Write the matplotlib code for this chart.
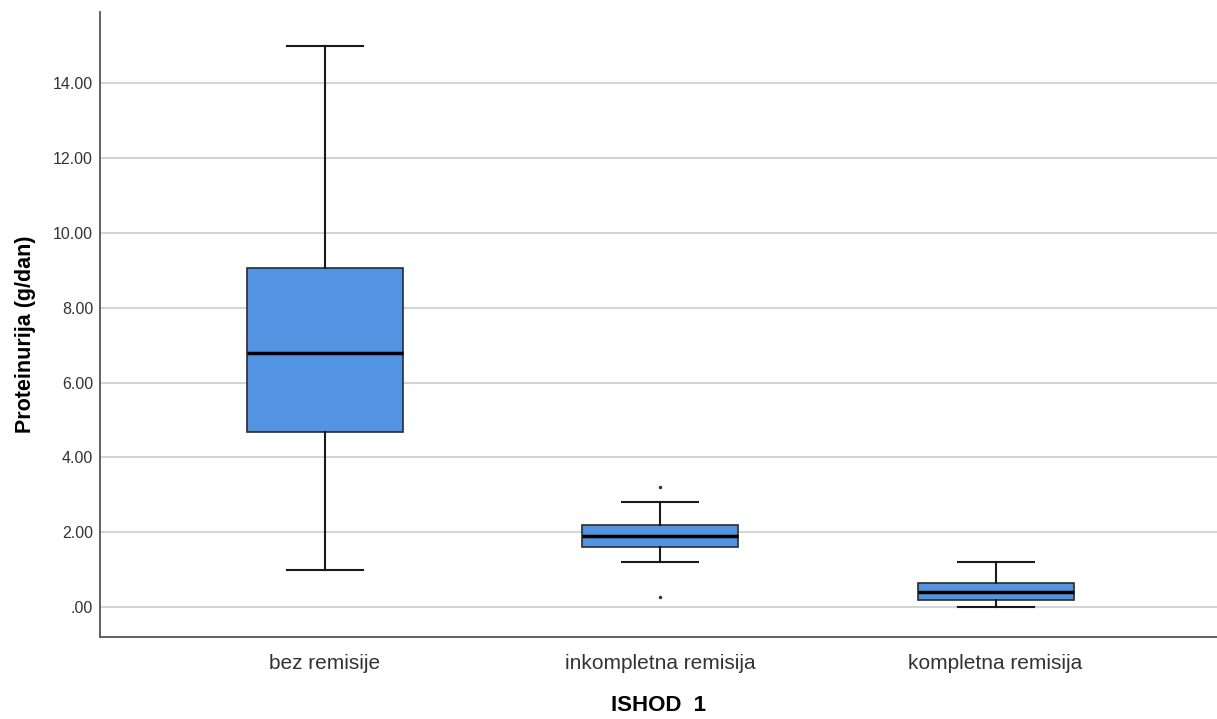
import matplotlib.pyplot as plt

# SPSS-style boxplot: Proteinurija by ISHOD 1
groups = ["bez remisije", "inkompletna remisija", "kompletna remisija"]
whislo = [1.0, 1.2, 0.0]
q1 = [4.68, 1.6, 0.2]
med = [6.8, 1.9, 0.4]
q3 = [9.05, 2.2, 0.65]
whishi = [15.0, 2.8, 1.2]
outliers = [[], [3.2, 0.27], []]

plt.rcParams['font.family'] = ['Liberation Sans', 'DejaVu Sans']

stats = []
for i in range(len(groups)):
    stats.append({"label": groups[i], "whislo": whislo[i], "q1": q1[i], "med": med[i],
                  "q3": q3[i], "whishi": whishi[i], "fliers": outliers[i]})

fig = plt.figure(figsize=(12.17, 7.19), dpi=100)
ax = fig.add_axes([100 / 1217, 82 / 719, 1 - 100 / 1217, 625 / 719])

for y in range(0, 16, 2):
    ax.axhline(y, color='#d4d4d4', lw=1.5, zorder=0)

ax.bxp(stats, positions=range(len(groups)), widths=0.465, patch_artist=True,
       capwidths=0.227,
       boxprops=dict(facecolor='#5294e2', edgecolor='#2b2b2b', lw=1.2),
       medianprops=dict(color='black', lw=2.5),
       whiskerprops=dict(color='#1a1a1a', lw=1.5),
       capprops=dict(color='#1a1a1a', lw=1.5),
       flierprops=dict(marker='o', markersize=1.5, markerfacecolor='#333333',
                       markeredgecolor='#333333'))

ax.set_xlim(-0.67, 2.66)
ax.set_ylim(-0.8, 15.9)
ax.set_yticks(range(0, 16, 2))
ax.set_yticklabels([".00"] + ["%.2f" % v for v in range(2, 16, 2)], fontsize=11.5, color='#333333')
ax.set_xticks(range(len(groups)))
ax.set_xticklabels(groups, fontsize=15, color='#333333')
ax.tick_params(axis='x', length=0, pad=12)
ax.tick_params(axis='y', length=0, pad=5)

for s in ['top', 'right']:
    ax.spines[s].set_visible(False)
ax.spines['left'].set_color('#555555')
ax.spines['bottom'].set_color('#555555')
ax.spines['left'].set_linewidth(1.3)
ax.spines['bottom'].set_linewidth(1.3)

ax.set_ylabel("Proteinurija (g/dan)", fontsize=15.5, fontweight='bold', labelpad=12)
ax.set_xlabel("ISHOD  1", fontsize=16, fontweight='bold', labelpad=16)
ax.yaxis.label.set_y(0.485)

fig.savefig("out.png", dpi=100)
